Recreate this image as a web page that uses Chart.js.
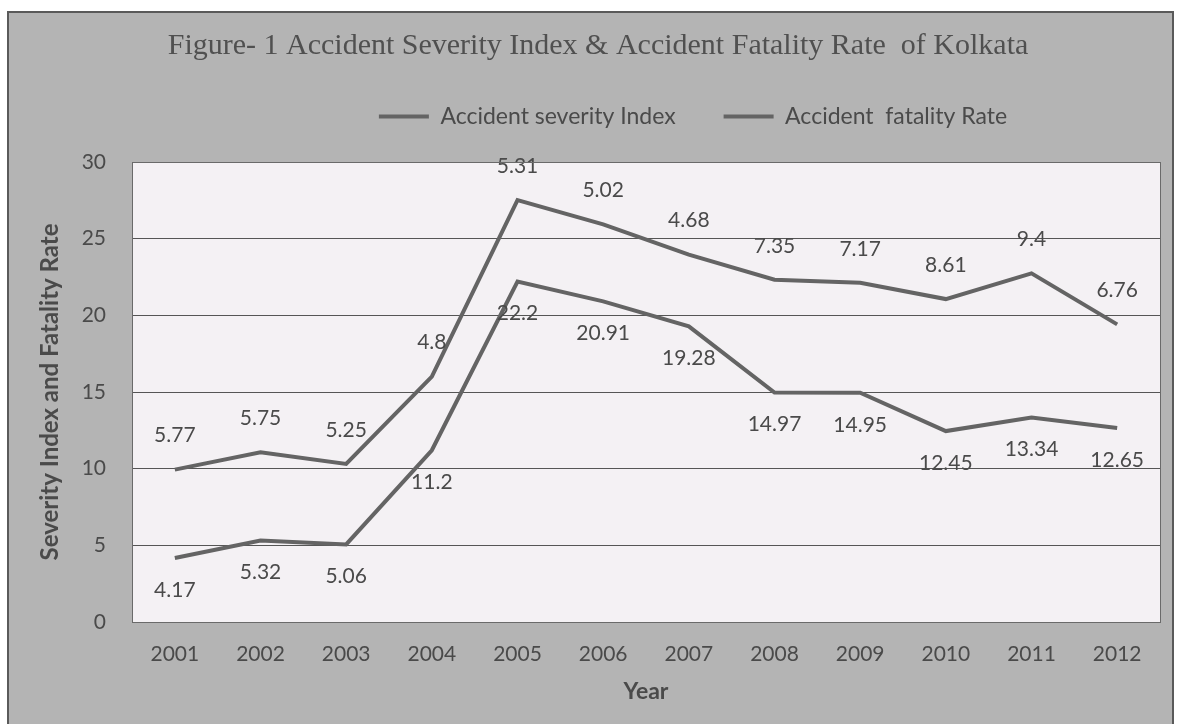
<!DOCTYPE html>
<html lang="en">
<head>
  <meta charset="UTF-8">
  <title>Accident Severity Index & Accident Fatality Rate of Kolkata</title>
  <script src="https://cdn.jsdelivr.net/npm/chart.js"></script>
  <style>
    html, body {
      margin: 0;
      padding: 0;
      background: white;
    }
    #wrap {
      width: 1181px;
      height: 724px;
    }
  </style>
</head>
<body>
  <div id="wrap"><canvas id="grafico" width="1181" height="724"></canvas></div>
  <script>
    // dados (linhas empilhadas, como no Excel original)
    const anos = ["2001", "2002", "2003", "2004", "2005", "2006", "2007", "2008", "2009", "2010", "2011", "2012"];
    const indiceSeveridade = [4.17, 5.32, 5.06, 11.2, 22.2, 20.91, 19.28, 14.97, 14.95, 12.45, 13.34, 12.65];
    const taxaFatalidade = [5.77, 5.75, 5.25, 4.8, 5.31, 5.02, 4.68, 7.35, 7.17, 8.61, 9.4, 6.76];
    const ticksY = [0, 5, 10, 15, 20, 25, 30];

    const corTexto = "#4a4a4a";
    const corLinha = "#646464";
    const fonteTexto = "Lato, 'Noto Sans', sans-serif";

    // fundo cinza "escaneado" e área do gráfico clara
    const fundo = {
      id: "fundo",
      beforeDraw(chart) {
        const ctx = chart.ctx;
        const a = chart.chartArea;
        ctx.save();
        ctx.fillStyle = "#ffffff";
        ctx.fillRect(0, 0, chart.width, chart.height);
        ctx.fillStyle = "#b4b4b4";
        ctx.fillRect(8, 12, chart.width - 16, chart.height - 12);
        ctx.strokeStyle = "#5a5a5a";
        ctx.lineWidth = 2;
        ctx.strokeRect(8, 12, chart.width - 16, chart.height - 10);
        ctx.fillStyle = "#f4f1f4";
        ctx.fillRect(a.left, a.top, a.right - a.left, a.bottom - a.top);
        ctx.restore();
      },
      afterDraw(chart) {
        const ctx = chart.ctx;
        const a = chart.chartArea;
        ctx.save();
        ctx.strokeStyle = "#6a6a6a";
        ctx.lineWidth = 1;
        ctx.strokeRect(a.left + 0.5, a.top + 0.5, a.right - a.left, a.bottom - a.top);
        ctx.restore();
      }
    };

    // a legenda do original fica mais à direita e mais perto do título
    const moverLegenda = {
      id: "moverLegenda",
      afterLayout(chart) {
        const lg = chart.legend;
        const dx = 693 - (lg.left + lg.right) / 2;
        lg.left += dx;
        lg.right += dx;
        lg.top -= 24;
        lg.bottom -= 24;
      }
    };

    // rótulos de valor: série de baixo abaixo do ponto, série de cima acima
    const rotulos = {
      id: "rotulos",
      afterDatasetsDraw(chart) {
        const ctx = chart.ctx;
        ctx.save();
        ctx.font = "21px " + fonteTexto;
        ctx.fillStyle = corTexto;
        ctx.textAlign = "center";
        ctx.textBaseline = "middle";
        chart.data.datasets.forEach((ds, i) => {
          const meta = chart.getDatasetMeta(i);
          meta.data.forEach((pt, j) => {
            const dy = i === 0 ? 32 : -34;
            ctx.fillText(String(ds.data[j]), pt.x, pt.y + dy);
          });
        });
        ctx.restore();
      }
    };

    new Chart(document.getElementById("grafico"), {
      type: "line",
      data: {
        labels: anos,
        datasets: [{
          label: "Accident severity Index",
          data: indiceSeveridade,
          borderColor: corLinha,
          backgroundColor: corLinha,
          borderWidth: 4,
          pointRadius: 0,
          tension: 0,
          fill: false
        }, {
          label: "Accident  fatality Rate",
          data: taxaFatalidade,
          borderColor: corLinha,
          backgroundColor: corLinha,
          borderWidth: 4,
          pointRadius: 0,
          tension: 0,
          fill: false
        }]
      },
      options: {
        responsive: false,
        animation: false,
        layout: { padding: { left: 36, right: 21, top: 0, bottom: 19 } },
        plugins: {
          title: {
            display: true,
            text: "Figure- 1 Accident Severity Index & Accident Fatality Rate  of Kolkata",
            color: "#505050",
            font: { family: "'Liberation Serif', serif", size: 30, weight: "normal" },
            padding: { top: 28, bottom: 17 }
          },
          legend: {
            display: true,
            labels: {
              color: corTexto,
              font: { family: fonteTexto, size: 23 },
              usePointStyle: true,
              pointStyle: "line",
              pointStyleWidth: 50,
              padding: 48
            }
          },
          tooltip: { enabled: false }
        },
        scales: {
          x: {
            offset: true,
            grid: { display: false },
            border: { display: false },
            ticks: {
              color: corTexto,
              font: { family: fonteTexto, size: 21 },
              padding: 12
            },
            title: {
              display: true,
              text: "Year",
              color: corTexto,
              font: { family: fonteTexto, size: 23, weight: "bold" },
              padding: { top: 4, bottom: 0 }
            },
            afterFit(s) { s.height = 83; }
          },
          y: {
            stacked: true,
            min: 0,
            max: 30,
            afterBuildTicks(s) { s.ticks = ticksY.map(v => ({ value: v })); },
            grid: { color: "#555555", lineWidth: 1, drawTicks: false },
            border: { display: false },
            ticks: {
              color: corTexto,
              font: { family: fonteTexto, size: 21 },
              padding: 26
            },
            title: {
              display: true,
              text: "Severity Index and Fatality Rate",
              color: corTexto,
              font: { family: fonteTexto, size: 24, weight: "bold" },
              padding: 0
            },
            afterFit(s) { s.width = 96; }
          }
        }
      },
      plugins: [fundo, moverLegenda, rotulos]
    });
  </script>
</body>
</html>
